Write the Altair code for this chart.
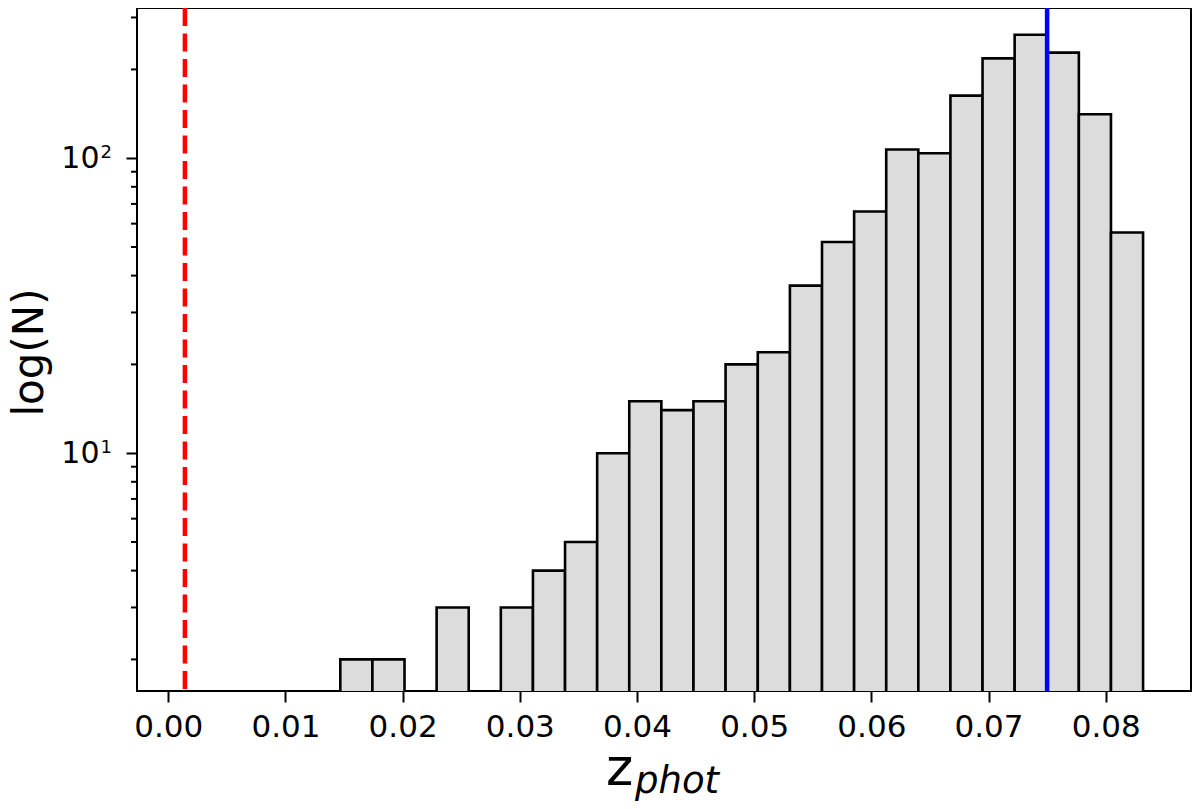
import altair as alt
import pandas as pd

# ---- data ----
bin_edges = [0.01468, 0.01742, 0.02016, 0.02290, 0.02564, 0.02838, 0.03112,
             0.03386, 0.03660, 0.03934, 0.04208, 0.04482, 0.04756, 0.05031,
             0.05305, 0.05579, 0.05853, 0.06127, 0.06401, 0.06675, 0.06949,
             0.07223, 0.07497, 0.07771, 0.08045, 0.08319]
counts = [2, 2, 0, 3, 0, 3, 4, 5, 10, 15, 14, 15, 20, 22, 37, 52, 66, 107,
          104, 163, 218, 262, 228, 141, 56]
red_line_x = [0.00142]
blue_line_x = [0.075]
x_ticks = [0.00, 0.01, 0.02, 0.03, 0.04, 0.05, 0.06, 0.07, 0.08]
y_major_ticks = [10, 100]
y_label_base = ["10", "10"]
y_label_exp = ["1", "2"]
y_minor_ticks = [2, 3, 4, 5, 6, 7, 8, 9, 20, 30, 40, 50, 60, 70, 80, 90, 200, 300]
x_title_parts = ["z", "phot"]
y_title = "log(N)"

x_domain = [-0.00267, 0.08728]
y_domain = [1.563, 323.0]

W, H = 1054, 683
FONT = "DejaVu Sans"

bars = pd.DataFrame({
    "start": bin_edges[:-1],
    "end": bin_edges[1:],
    "count": counts,
    "base": [1.0] * len(counts),
})
bars = bars[bars["count"] > 0]

xscale = alt.Scale(domain=x_domain, nice=False, zero=False)
yscale = alt.Scale(type="log", domain=y_domain, nice=False)

x_axis = alt.Axis(
    values=x_ticks, format=".2f", title=None, grid=False, domain=False,
    tickSize=11, tickWidth=2, tickColor="black", labelFontSize=31,
    labelFont=FONT, labelColor="black", labelPadding=10)

y_axis = alt.Axis(
    values=y_major_ticks, labels=False,
    title=y_title, grid=False, domain=False, tickSize=11, tickWidth=2,
    tickColor="black", titleFont=FONT,
    titleFontSize=42, titleFontWeight="normal", titleColor="black",
    titleAngle=270, titleBaseline="alphabetic", titleAlign="center",
    titleX=-95, titleY=344)

bar_layer = alt.Chart(bars).mark_rect(
    fill="#dcdcdc", stroke="black", strokeWidth=2.6, clip=True
).encode(
    x=alt.X("start:Q", scale=xscale, axis=x_axis),
    x2="end:Q",
    y=alt.Y("count:Q", scale=yscale, axis=y_axis),
    y2="base:Q",
)

minor = alt.Chart(pd.DataFrame({"count": y_minor_ticks})).mark_rule(
    color="black", strokeWidth=2
).encode(
    y=alt.Y("count:Q", scale=yscale, axis=y_axis),
    x=alt.value(-6),
    x2=alt.value(0),
)

ylab = pd.DataFrame({"count": y_major_ticks, "b": y_label_base, "e": y_label_exp})

ylab_base = alt.Chart(ylab).mark_text(
    font=FONT, fontSize=30, align="right", baseline="alphabetic", dy=10,
    color="black"
).encode(
    y=alt.Y("count:Q", scale=yscale, axis=y_axis),
    x=alt.value(-37.5),
    text="b:N",
)

ylab_exp = alt.Chart(ylab).mark_text(
    font=FONT, fontSize=18, align="right", baseline="alphabetic", dy=0,
    color="black"
).encode(
    y=alt.Y("count:Q", scale=yscale, axis=y_axis),
    x=alt.value(-25),
    text="e:N",
)

red = alt.Chart(pd.DataFrame({"start": red_line_x})).mark_rule(
    color="#ff0000", strokeWidth=4.5, strokeDash=[18, 7.5]
).encode(x=alt.X("start:Q", scale=xscale, axis=x_axis))

blue = alt.Chart(pd.DataFrame({"start": blue_line_x})).mark_rule(
    color="#0000ff", strokeWidth=4.5
).encode(x=alt.X("start:Q", scale=xscale, axis=x_axis))

title_main = alt.Chart(pd.DataFrame({"t": [x_title_parts[0]]})).mark_text(
    font=FONT, fontSize=52, align="left", baseline="alphabetic", color="black"
).encode(text="t:N", x=alt.value(469), y=alt.value(777))

title_sub = alt.Chart(pd.DataFrame({"t": [x_title_parts[1]]})).mark_text(
    font=FONT, fontSize=37, fontStyle="italic", align="left",
    baseline="alphabetic", color="black"
).encode(text="t:N", x=alt.value(498), y=alt.value(785))

chart = alt.layer(
    bar_layer, minor, ylab_base, ylab_exp, red, blue, title_main, title_sub
).properties(
    width=W, height=H,
    autosize=alt.AutoSizeParams(type="none"),
    padding={"left": 129, "top": 0, "right": 1, "bottom": 110},
    background="white",
).configure_view(stroke="black", strokeWidth=2)

chart.save("out.html", embed_options={"renderer": "svg", "actions": False})
